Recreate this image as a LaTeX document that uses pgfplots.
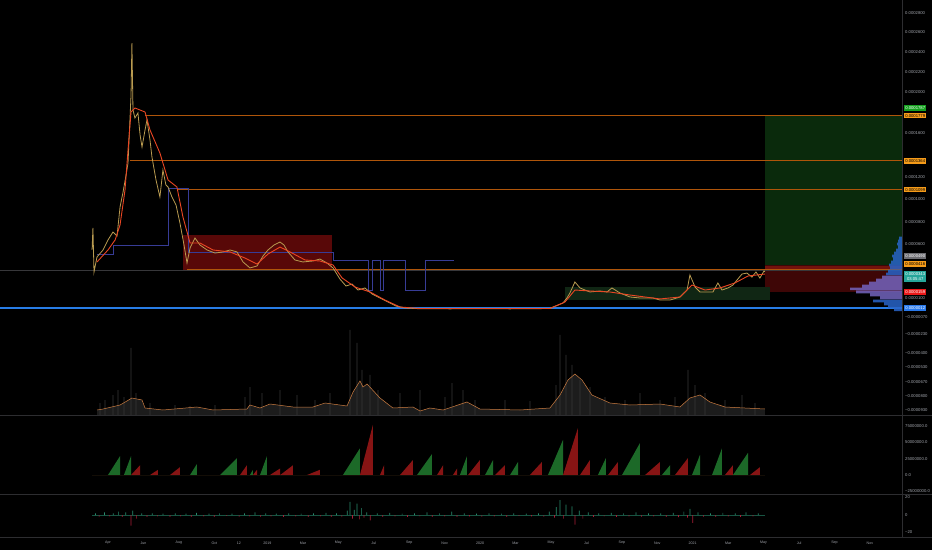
\documentclass[border=0pt]{standalone}
\usepackage{fontspec}
\setmainfont{Liberation Sans}
\usepackage{pgfplots}
\pgfplotsset{compat=1.18}

\definecolor{tickc}{RGB}{160,163,170}
\definecolor{sepc}{RGB}{45,45,48}
\definecolor{hline}{RGB}{175,85,10}
\definecolor{pricec}{RGB}{185,155,80}
\definecolor{mac}{RGB}{235,70,35}
\definecolor{stepc}{RGB}{55,60,150}
\definecolor{bluel}{RGB}{40,125,230}
\definecolor{boxred}{RGB}{88,8,8}
\definecolor{boxgreen}{RGB}{16,38,20}
\definecolor{tgtgreen}{RGB}{10,42,12}
\definecolor{stopred}{RGB}{62,6,6}
\definecolor{stopband}{RGB}{115,18,12}
\definecolor{volc}{RGB}{55,55,55}
\definecolor{volfill}{RGB}{28,28,28}
\definecolor{volma}{RGB}{205,125,65}
\definecolor{hgreen}{RGB}{28,105,40}
\definecolor{hred}{RGB}{135,20,20}
\definecolor{ogreen}{RGB}{40,140,110}
\definecolor{ored}{RGB}{170,30,55}
\definecolor{profb}{RGB}{40,100,200}
\definecolor{profl}{RGB}{115,100,190}
\definecolor{lgreen}{RGB}{20,160,30}
\definecolor{lorange}{RGB}{245,155,25}
\definecolor{lgray}{RGB}{110,110,115}
\definecolor{lteal}{RGB}{38,166,154}
\definecolor{lred}{RGB}{235,25,25}
\definecolor{lblue}{RGB}{40,120,235}
\definecolor{lastc}{RGB}{55,55,58}

\pgfplotsset{
  tv/.style={scale only axis, anchor=south west, width=902pt,
    xmin=-3.095, xmax=47.81,
    axis line style={draw=none}, tick style={draw=none}, major tick length=0pt,
    xtick=\empty, yticklabel pos=right,
    yticklabel style={font=\fontsize{4.2}{5}\selectfont, text=tickc,
      anchor=west, inner sep=0pt, xshift=3pt},
    clip mode=individual},
}
\tikzset{
  lbl/.style={font=\fontsize{4.2}{5}\selectfont, anchor=west, inner xsep=1pt,
    inner ysep=1.2pt, minimum width=22pt, xshift=2pt},
}

\begin{document}
\begin{tikzpicture}
\fill[black] (0pt,0pt) rectangle (932pt,550pt);

% main price pane (price in units of 1e-7)
\begin{axis}[tv, at={(0pt,135pt)}, height=415pt, ymin=-971.5, ymax=2842.4,
  ytick={2725.7,2548.3,2364.5,2180.7,1996.9,1620.1,1215.8,1013.6,802.2,600,100,-70.8,-227,-401.7,-530.3,-668.2,-796.9,-925.5},
  yticklabels={0.0002800,0.0002600,0.0002400,0.0002200,0.0002000,0.0001600,0.0001200,0.0001000,0.0000800,0.0000600,0.0000100,−0.0000070,−0.0000230,−0.0000400,−0.0000530,−0.0000670,−0.0000800,−0.0000930}]
% zones
\addplot[fill=tgtgreen, draw=none] coordinates {(40.07,407)(47.81,407)(47.81,1786)(40.07,1786)} -- cycle;
\addplot[fill=stopred, draw=none] coordinates {(40.07,159)(47.81,159)(47.81,407)(40.07,407)} -- cycle;
\addplot[fill=stopband, draw=none] coordinates {(40.07,361)(47.81,361)(47.81,400)(40.07,400)} -- cycle;
\addplot[fill=boxred, draw=none] coordinates {(7.25,361)(15.64,361)(15.64,683)(7.25,683)} -- cycle;
\addplot[fill=boxgreen, draw=none] coordinates {(28.79,85)(40.36,85)(40.36,205)(28.79,205)} -- cycle;
% horizontal levels
\addplot[color=lastc, line width=0.3pt] coordinates {(-3.095,361)(47.81,361)};
\addplot[color=hline, line width=0.9pt] coordinates {(5.09,1779)(47.81,1779)};
\addplot[color=hline, line width=0.9pt] coordinates {(4.24,1364)(47.81,1364)};
\addplot[color=hline, line width=0.9pt] coordinates {(6.95,1099)(47.81,1099)};
\addplot[color=hline, line width=0.9pt] coordinates {(7.46,370)(47.81,370)};
\addplot[color=bluel, line width=1.1pt] coordinates {(-3.095,12)(47.81,12)};
% step line
\addplot[color=stepc, line width=0.4pt] coordinates {
(2.38,508)(3.28,508)(3.28,591)(6.39,591)(6.39,1115)(7.51,1115)(7.51,527)(15.70,527)
(15.70,453)(17.67,453)(17.67,177)(17.90,177)(17.90,453)(18.35,453)(18.35,177)(18.52,177)
(18.52,453)(19.76,453)(19.76,177)(20.89,177)(20.89,453)(22.5,453)};
% price
\addplot[color=pricec, line width=0.8pt] coordinates {
(2.10,545)(2.15,747)(2.21,343)(2.38,481)(2.72,545)(3.00,637)(3.28,710)(3.51,674)(3.68,940)
(3.85,1078)(4.02,1234)(4.13,1344)(4.30,1969)(4.35,2447)(4.41,1832)(4.52,1758)(4.69,1804)
(4.81,1602)(4.92,1491)(5.09,1648)(5.20,1740)(5.37,1556)(5.48,1400)(5.71,1188)(5.93,1032)
(6.10,1280)(6.27,1142)(6.39,1124)(6.61,1032)(6.84,958)(7.06,793)(7.29,591)(7.46,425)
(7.63,563)(7.91,655)(8.19,591)(8.59,545)(9.04,517)(9.49,527)(9.89,545)(10.28,527)(10.62,435)
(11.01,380)(11.41,398)(11.75,490)(12.03,545)(12.37,591)(12.71,618)(12.93,591)(13.16,527)
(13.55,453)(14.00,435)(14.57,444)(14.96,462)(15.36,425)(15.70,380)(16.09,278)(16.43,214)
(16.77,232)(17.11,177)(17.50,196)(17.90,141)(18.35,104)(18.80,67)(19.25,30)(19.76,12)
(20.61,5)(22.30,4)(23.99,5)(25.69,4)(27.38,6)(27.94,8)(28.11,21)(28.40,39)(28.68,58)
(28.90,104)(29.07,150)(29.35,251)(29.64,196)(29.92,177)(30.20,159)(30.77,168)(31.16,159)
(31.44,196)(31.89,150)(32.46,113)(33.02,104)(33.76,104)(34.15,85)(34.72,85)(35.28,113)
(35.68,177)(35.84,315)(36.13,205)(36.41,159)(36.80,159)(37.14,159)(37.42,242)(37.65,177)
(37.99,196)(38.27,223)(38.50,269)(38.78,324)(39.06,333)(39.34,296)(39.57,343)(39.79,287)
(40.02,352)(40.07,343)};
% moving average
\addplot[color=mac, line width=0.9pt] coordinates {
(2.38,435)(3.00,545)(3.40,637)(3.68,775)(3.96,1096)(4.13,1464)(4.30,1813)(4.52,1850)
(5.09,1813)(5.37,1648)(5.93,1436)(6.39,1188)(6.89,1124)(7.23,848)(7.63,609)(8.19,609)
(8.93,545)(9.89,527)(10.73,471)(11.41,416)(12.03,508)(12.71,572)(13.27,527)(14.12,453)
(14.96,444)(15.70,407)(16.21,288)(16.94,205)(17.79,159)(18.63,85)(19.48,21)(20.61,7)
(27.94,7)(28.79,67)(29.35,177)(30.20,168)(31.33,159)(32.46,131)(34.15,95)(35.28,113)
(35.96,223)(36.69,177)(37.54,196)(38.38,242)(39.12,306)(40.07,324)};
% value labels on the price scale
\node[lbl, fill=lgreen, text=white] at (axis cs:47.81,1850) {0.0001787};
\node[lbl, fill=lorange, text=black] at (axis cs:47.81,1779) {0.0001779};
\node[lbl, fill=lorange, text=black] at (axis cs:47.81,1364) {0.0001364};
\node[lbl, fill=lorange, text=black] at (axis cs:47.81,1099) {0.0001099};
\node[lbl, fill=lgray, text=white] at (axis cs:47.81,490) {0.0000490};
\node[lbl, fill=lorange, text=black] at (axis cs:47.81,416) {0.0000416};
\node[lbl, fill=lteal, text=white, align=center, font=\fontsize{4.2}{5.2}\selectfont] at (axis cs:47.81,300) {0.0000343\\03:05:47};
\node[lbl, fill=lred, text=white] at (axis cs:47.81,159) {0.0000159};
\node[lbl, fill=lblue, text=white] at (axis cs:47.81,12) {0.0000012};
\end{axis}

% volume profile (bar length in px, from the right edge)
\begin{axis}[scale only axis, anchor=south west, at={(0pt,135pt)}, width=902pt, height=415pt,
  hide axis, x dir=reverse, xmin=0, xmax=902, ymin=-971.5, ymax=2842.4]
\addplot[xbar, bar width=2.6pt, bar shift=0pt, fill=profb, draw=none, fill opacity=0.85] coordinates {
(3,655)(4,628)(5,600)(4,572)(6,545)(8,517)(10,490)(9,462)(11,435)(13,407)(12,380)(14,352)
(16,324)(29,76)(18,49)(14,21)(8,-6)};
\addplot[xbar, bar width=2.6pt, bar shift=0pt, fill=profl, draw=none, fill opacity=0.85] coordinates {
(20,297)(26,269)(33,242)(40,214)(52,187)(46,159)(32,131)(22,104)};
\end{axis}

% volume overlay
\begin{axis}[tv, at={(0pt,135pt)}, height=85pt, ymin=0, ymax=85, ytick=\empty]
\addplot[fill=volfill, draw=none] coordinates {
(2.38,5)(2.72,6)(3.68,10)(4.07,14)(4.35,17)(4.92,15)(5.09,7)(6.10,5)(8.02,8)(8.93,5)
(10.84,6)(11.01,10)(11.58,7)(12.14,11)(13.44,8)(14.57,8)(15.25,12)(16.49,9)(16.83,23)
(17.22,34)(17.39,28)(17.62,31)(18.35,17)(19.08,7)(20.21,8)(20.61,4)(21.17,7)(21.91,5)
(23.26,13)(23.99,6)(26.25,5)(27.94,7)(28.51,20)(28.96,35)(29.35,41)(29.75,35)(30.31,20)
(31.33,12)(32.46,10)(34.15,11)(35.28,8)(35.84,17)(36.41,20)(36.97,13)(37.82,8)(38.95,7)
(40.07,6)} \closedcycle;
\addplot[ybar, bar width=0.8pt, bar shift=0pt, fill=volc, draw=none] coordinates {
(2.55,12)(2.83,15)(3.28,20)(3.56,25)(3.90,18)(4.30,67)(4.58,22)(5.37,12)(6.78,10)(7.63,9)
(9.04,10)(10.73,18)(11.01,28)(11.69,22)(12.71,25)(13.67,20)(14.68,15)(15.53,22)(16.66,85)
(17.05,72)(17.33,45)(17.79,40)(18.24,25)(19.48,22)(20.61,25)(22.02,18)(22.41,32)(23.03,25)
(23.71,15)(25.40,15)(26.81,14)(28.28,30)(28.51,80)(28.85,60)(29.19,50)(29.64,35)(30.20,28)
(31.05,18)(32.18,15)(33.02,22)(34.15,15)(35.00,18)(35.73,45)(36.13,30)(36.69,22)(37.82,15)
(38.78,20)(39.51,12)};
\addplot[color=volma, line width=0.5pt] coordinates {
(2.38,5)(2.72,6)(3.68,10)(4.07,14)(4.35,17)(4.92,15)(5.09,7)(6.10,5)(8.02,8)(8.93,5)
(10.84,6)(11.01,10)(11.58,7)(12.14,11)(13.44,8)(14.57,8)(15.25,12)(16.49,9)(16.83,23)
(17.22,34)(17.39,28)(17.62,31)(18.35,17)(19.08,7)(20.21,8)(20.61,4)(21.17,7)(21.91,5)
(23.26,13)(23.99,6)(26.25,5)(27.94,7)(28.51,20)(28.96,35)(29.35,41)(29.75,35)(30.31,20)
(31.33,12)(32.46,10)(34.15,11)(35.28,8)(35.84,17)(36.41,20)(36.97,13)(37.82,8)(38.95,7)
(40.07,6)};
\end{axis}

% sawtooth pane (millions)
\begin{axis}[tv, at={(0pt,56pt)}, height=79pt, ymin=-29.1, ymax=92,
  ytick={75,50,25,0,-25},
  yticklabels={75000000.0,50000000.0,25000000.0,0.0,−25000000.0}]
\addplot[fill=hgreen, draw=none] coordinates {
(2.1,0)(3.00,0)(3.68,29)(3.68,0)(3.90,0)(4.30,29)(4.30,0)(7.63,0)(8.02,17)(8.02,0)
(9.32,0)(10.28,26)(10.28,0)(11.01,0)(11.18,8)(11.18,0)(11.58,0)(11.97,29)(11.97,0)
(16.26,0)(17.22,41)(17.22,0)(20.44,0)(21.28,32)(21.28,0)(22.86,0)(23.26,29)(23.26,0)
(24.28,0)(24.73,23)(24.73,0)(25.69,0)(26.14,20)(26.14,0)(27.83,0)(28.68,54)(28.68,0)
(30.65,0)(31.10,26)(31.10,0)(32.01,0)(33.02,49)(33.02,0)(34.26,0)(34.72,15)(34.72,0)
(35.96,0)(36.41,31)(36.41,0)(37.09,0)(37.65,41)(37.65,0)(38.27,0)(39.12,34)(39.12,0)
(40.07,0)} -- cycle;
\addplot[fill=hred, draw=none] coordinates {
(2.1,0)(4.30,0)(4.81,15)(4.81,0)(5.37,0)(5.82,8)(5.82,0)(6.50,0)(7.06,12)(7.06,0)
(10.45,0)(10.84,15)(10.84,0)(11.18,0)(11.41,8)(11.41,0)(12.14,0)(12.71,10)(12.71,0)
(12.72,0)(13.44,15)(13.44,0)(14.23,0)(14.96,8)(14.96,0)(17.22,0)(17.95,77)(17.95,0)
(18.35,0)(18.58,15)(18.58,0)(19.48,0)(20.21,23)(20.21,0)(21.57,0)(21.91,15)(21.91,0)
(22.47,0)(22.70,10)(22.70,0)(23.32,0)(23.99,23)(23.99,0)(24.84,0)(25.40,15)(25.40,0)
(26.81,0)(27.49,20)(27.49,0)(28.68,0)(29.52,72)(29.52,0)(29.64,0)(30.20,23)(30.20,0)
(31.22,0)(31.78,20)(31.78,0)(33.31,0)(34.15,20)(34.15,0)(35.00,0)(35.73,26)(35.73,0)
(37.82,0)(38.27,15)(38.27,0)(39.23,0)(39.79,12)(39.79,0)(40.07,0)} -- cycle;
\end{axis}

% oscillator pane
\begin{axis}[tv, at={(0pt,13pt)}, height=43pt, ymin=-25.1, ymax=24,
  ytick={20,0,-20}, yticklabels={20,0,−20},
  xtick={3,5,7,9,10.39,12,14,16,18,20,22,24,26,28,30,32,34,36,38,40,42,44,46},
  xticklabels={Apr,Jun,Aug,Oct,12,2019,Mar,May,Jul,Sep,Nov,2020,Mar,May,Jul,Sep,Nov,2021,Mar,May,Jul,Sep,Nov},
  xticklabel style={font=\fontsize{3.6}{4}\selectfont, text=tickc, anchor=center, yshift=-6pt}]
\addplot[color=ogreen!60!black, line width=0.3pt] coordinates {(2.1,0)(40.07,0)};
\addplot[ybar, bar width=0.7pt, bar shift=0pt, fill=ogreen, draw=none] coordinates {
(2.3,2)(2.8,3)(3.3,2)(3.6,4)(4.0,3)(4.4,5)(4.9,2)(5.5,2)(6.1,1.5)(6.8,2)(7.4,1.5)(8.0,2.5)
(8.7,1.5)(9.3,2)(10.0,1.5)(10.7,2)(11.3,3)(11.9,2)(12.5,1.5)(13.2,2)(13.9,1.5)(14.6,2)
(15.3,2.5)(15.9,2)(16.5,5)(16.66,15)(16.9,6)(17.05,13)(17.3,8)(17.6,3)(18.2,2)(18.9,2.5)
(19.6,1.5)(20.3,2)(21.0,3)(21.7,2)(22.4,4)(23.1,2)(23.8,1.5)(24.5,2)(25.2,1.5)(25.9,2)
(26.6,1.5)(27.3,2)(27.9,4)(28.3,9)(28.51,17)(28.85,12)(29.19,10)(29.6,5)(30.1,3)(30.7,2)
(31.4,2.5)(32.1,2)(32.8,3)(33.5,2)(34.2,2)(34.9,2.5)(35.5,4)(35.84,7)(36.3,3)(37.0,2)
(37.7,2.5)(38.4,2)(39.0,3)(39.7,2)};
\addplot[ybar, bar width=0.7pt, bar shift=0pt, fill=ored, draw=none] coordinates {
(2.5,-2)(3.1,-1.5)(3.8,-2)(4.3,-12)(4.6,-4)(5.2,-2)(5.8,-1.5)(6.5,-2)(7.1,-1.5)(7.7,-2)
(8.4,-1.5)(9.0,-2)(9.7,-1)(10.4,-2)(11.0,-1.5)(11.6,-2)(12.2,-1.5)(12.9,-2)(13.6,-1.5)
(14.3,-2)(15.0,-1.5)(15.6,-2)(16.2,-2.5)(16.8,-4)(17.2,-5)(17.45,-3)(17.8,-6)(18.5,-2)
(19.2,-1.5)(19.9,-2)(20.6,-1.5)(21.3,-2)(22.0,-1.5)(22.7,-2)(23.4,-1.5)(24.1,-2)(24.8,-1.5)
(25.5,-2)(26.2,-1)(26.9,-1.5)(27.6,-2)(28.2,-3)(28.7,-4)(29.35,-11)(29.8,-4)(30.4,-2)
(31.0,-1.5)(31.7,-2)(32.4,-1.5)(33.1,-2)(33.8,-1.5)(34.5,-2)(35.2,-2.5)(35.7,-3)(36.0,-9)
(36.6,-2)(37.3,-2)(38.0,-1.5)(38.7,-2)(39.4,-1.5)};
\end{axis}

% pane separators and price-scale border
\draw[sepc, line width=0.6pt] (0pt,135pt) -- (932pt,135pt);
\draw[sepc, line width=0.6pt] (0pt,56pt) -- (932pt,56pt);
\draw[sepc, line width=0.6pt] (0pt,13pt) -- (932pt,13pt);
\draw[sepc, line width=0.6pt] (902pt,13pt) -- (902pt,550pt);
\pgfresetboundingbox
\path (0pt,0pt) rectangle (932pt,550pt);
\end{tikzpicture}
\end{document}
